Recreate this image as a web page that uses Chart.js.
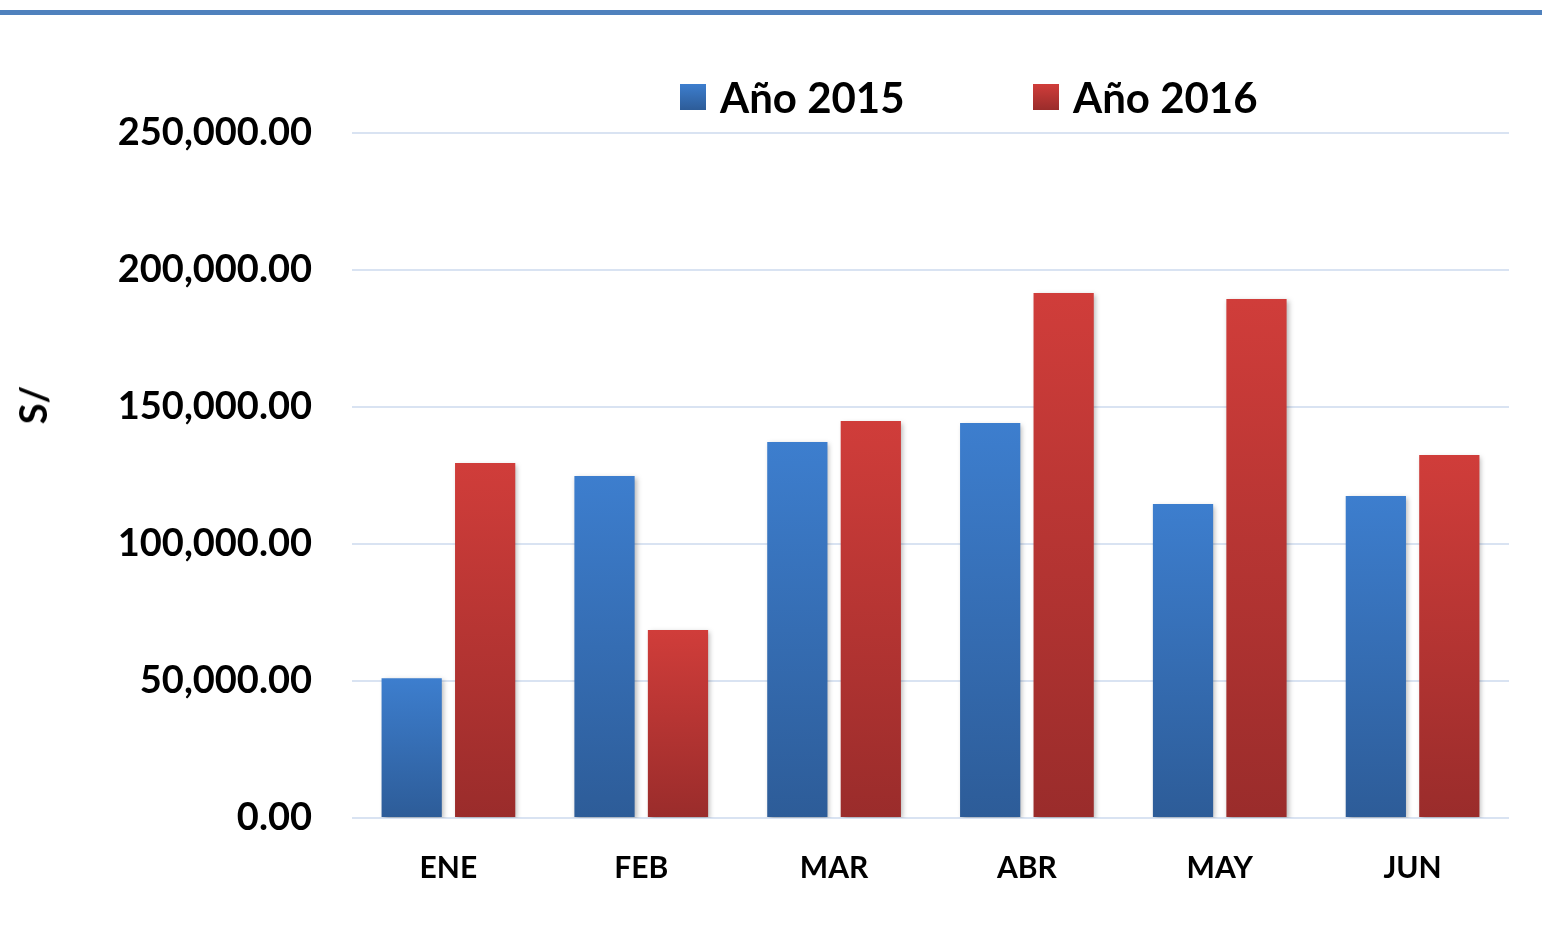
<!DOCTYPE html>
<html>
<head>
<meta charset="utf-8">
<script src="https://cdn.jsdelivr.net/npm/chart.js@4"></script>
<style>
  html, body { margin: 0; padding: 0; background: #fff; }
  #wrap { position: relative; width: 1542px; height: 936px; overflow: hidden; }
  #topline { position: absolute; left: 0; top: 10px; width: 1542px; height: 5px; background: #4F81BD; }
  #chart { position: absolute; left: 0; top: 0; }
  .leg { position: absolute; top: 72px; height: 50px; display: flex; align-items: center;
         font-family: Lato, "Open Sans", sans-serif; font-weight: bold; font-size: 42px; color: #000; white-space: nowrap; }
  .leg .box { width: 26px; height: 26px; margin-right: 14px; }
  #ytitle { position: absolute; left: 32px; top: 405px; transform: translate(-50%, -50%) rotate(-90deg);
            font-family: Lato, "Open Sans", sans-serif; font-weight: bold; font-size: 38px; color: #000; white-space: nowrap; }
</style>
</head>
<body>
<div id="wrap">
  <canvas id="chart" width="1542" height="936"></canvas>
  <div id="topline"></div>
  <div class="leg" style="left:680px"><div class="box" style="background:linear-gradient(#3D7ECE,#2D5C98)"></div><span id="l1"></span></div>
  <div class="leg" style="left:1033px"><div class="box" style="background:linear-gradient(#D03D3A,#9A2C2B)"></div><span id="l2"></span></div>
  <div id="ytitle"></div>
</div>
<script>
const categories = ['ENE', 'FEB', 'MAR', 'ABR', 'MAY', 'JUN'];
const seriesNames = ['Año 2015', 'Año 2016'];
const values2015 = [51000, 124800, 137200, 144200, 114600, 117500];
const values2016 = [129600, 68600, 144900, 191600, 189400, 132500];
const yTickValues = [0, 50000, 100000, 150000, 200000, 250000];
const yTitle = 'S/';

document.getElementById('l1').textContent = seriesNames[0];
document.getElementById('l2').textContent = seriesNames[1];
document.getElementById('ytitle').textContent = yTitle;

function gradFill(topColor, bottomColor) {
  return function (c) {
    const chart = c.chart;
    if (!chart.chartArea || c.type !== 'data' || c.raw == null) return topColor;
    const ys = chart.scales.y;
    const top = ys.getPixelForValue(c.raw);
    const bottom = ys.getPixelForValue(0);
    if (!isFinite(top) || !isFinite(bottom) || top === bottom) return topColor;
    const g = chart.ctx.createLinearGradient(0, top, 0, bottom);
    g.addColorStop(0, topColor);
    g.addColorStop(1, bottomColor);
    return g;
  };
}

const shadowPlugin = {
  id: 'barShadow',
  beforeDatasetsDraw(chart) {
    const ctx = chart.ctx;
    ctx.save();
    ctx.shadowColor = 'rgba(0,0,0,0.28)';
    ctx.shadowBlur = 5;
    ctx.shadowOffsetX = 2;
    ctx.shadowOffsetY = 2;
  },
  afterDatasetsDraw(chart) {
    chart.ctx.restore();
  }
};

const fontFamily = 'Lato, "Open Sans", sans-serif';

new Chart(document.getElementById('chart'), {
  type: 'bar',
  data: {
    labels: categories,
    datasets: [
      { label: seriesNames[0], data: values2015, backgroundColor: gradFill('#3D7ECE', '#2D5C98'),
        categoryPercentage: 0.762, barPercentage: 0.82 },
      { label: seriesNames[1], data: values2016, backgroundColor: gradFill('#D03D3A', '#9A2C2B'),
        categoryPercentage: 0.762, barPercentage: 0.82 }
    ]
  },
  options: {
    responsive: false,
    animation: false,
    devicePixelRatio: 1,
    layout: { padding: { left: 0, right: 33, top: 133, bottom: 0 } },
    plugins: {
      legend: { display: false },
      tooltip: { enabled: false },
      title: { display: false }
    },
    scales: {
      x: {
        grid: { display: false, drawTicks: false },
        border: { display: false },
        ticks: { color: '#000', font: { family: fontFamily, weight: 'bold', size: 30 }, padding: 32 },
        afterFit(s) { s.height = 118; }
      },
      y: {
        min: 0,
        max: 250000,
        afterBuildTicks(s) { s.ticks = yTickValues.map(v => ({ value: v })); },
        grid: { color: '#D9E3F2', lineWidth: 2, drawTicks: false },
        border: { display: false },
        ticks: {
          color: '#000',
          padding: 40,
          font: { family: fontFamily, weight: 'bold', size: 38 },
          callback: v => Number(v).toLocaleString('en-US', { minimumFractionDigits: 2, maximumFractionDigits: 2 })
        },
        afterFit(s) { s.width = 352; }
      }
    }
  },
  plugins: [shadowPlugin]
});
</script>
</body>
</html>
